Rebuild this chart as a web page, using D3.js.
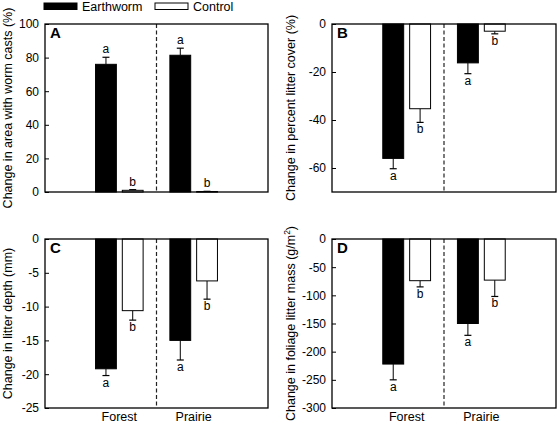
<!DOCTYPE html>
<html>
<head>
<meta charset="utf-8">
<script src="https://cdn.jsdelivr.net/npm/d3@7"></script>
<style>
  body { margin: 0; background: #fff; }
  svg { display: block; font-family: "Liberation Sans", Arial, sans-serif; }
</style>
</head>
<body>
<svg id="chart" width="558" height="427"></svg>
<script>
// ---- data ----
const groups = ["Forest", "Prairie"];
const series = ["Earthworm", "Control"];
// order: Forest-Earthworm, Forest-Control, Prairie-Earthworm, Prairie-Control
const castsMean = [76.0, 1.0, 81.4, 0.3];
const castsErr  = [4.2, 0.4, 4.2, 0.1];
const coverMean = [-56.0, -35.3, -16.2, -3.0];
const coverErr  = [4.3, 5.7, 4.5, 1.1];
const depthMean = [-19.2, -10.6, -15.0, -6.2];
const depthErr  = [1.0, 1.4, 2.9, 2.7];
const massMean  = [-222, -74, -150, -73];
const massErr   = [28, 11, 21, 29];
const letters   = ["a", "b", "a", "b"];
const castsTicks = [0, 20, 40, 60, 80, 100];
const coverTicks = [0, -20, -40, -60];
const depthTicks = [0, -5, -10, -15, -20, -25];
const massTicks  = [0, -50, -100, -150, -200, -250, -300];

const svg = d3.select("#chart");

// legend
const leg = svg.append("g");
series.forEach((s, i) => {
  const x0 = i === 0 ? 44 : 155;
  leg.append("rect").attr("x", x0).attr("y", 3).attr("width", 33).attr("height", 6.5)
    .attr("fill", i === 0 ? "#000" : "#fff").attr("stroke", "#000").attr("stroke-width", 1);
  leg.append("text").attr("x", x0 + 38).attr("y", 11).attr("font-size", 12.5).attr("fill", "#000").text(s);
});

function gi2pos(gi) { return gi + 1; }

function panel(cfg) {
  const { left, right, top, bottom, domain, ticks, mean, err, title, letter, titleX, showCats } = cfg;
  const g = svg.append("g");
  const x = d3.scaleLinear().domain([0, 3]).range([left, right]);
  const y = d3.scaleLinear().domain(domain).range([bottom, top]);
  const offset = [-0.18, 0.18];
  const bw = 0.28;

  // axis
  const ax = g.append("g").attr("transform", `translate(${left},0)`)
    .call(d3.axisLeft(y).tickValues(ticks).tickFormat(d => String(d))
      .tickSizeInner(-4).tickSizeOuter(0).tickPadding(6));
  ax.select(".domain").remove();
  ax.selectAll("text").attr("font-size", 12).attr("font-family", "Liberation Sans, Arial, sans-serif").attr("fill", "#000");
  ax.selectAll("line").attr("stroke", "#000");

  // dashed divider
  g.append("line").attr("x1", x(1.5)).attr("x2", x(1.5)).attr("y1", top).attr("y2", bottom)
    .attr("stroke", "#222").attr("stroke-width", 1.2).attr("stroke-dasharray", "4,2.5");

  const data = [];
  groups.forEach((gr, gi) => series.forEach((s, si) => {
    const k = gi * 2 + si;
    data.push({ gi, si, m: mean[k], e: err[k], l: letters[k] });
  }));

  data.forEach(d => {
    const pos = gi2pos(d.gi) + offset[d.si];
    const cx = x(pos);
    const x0 = x(pos - bw / 2);
    const x1 = x(pos + bw / 2);
    const y0 = y(0), y1 = y(d.m);
    const sign = d.m >= 0 ? 1 : -1;
    const cap = y(d.m + sign * d.e);
    g.append("line").attr("x1", cx).attr("x2", cx).attr("y1", y1).attr("y2", cap).attr("stroke", "#000").attr("stroke-width", 1);
    g.append("line").attr("x1", cx - 3.5).attr("x2", cx + 3.5).attr("y1", cap).attr("y2", cap).attr("stroke", "#000").attr("stroke-width", 1.2);
    g.append("rect").attr("x", x0).attr("width", x1 - x0)
      .attr("y", Math.min(y0, y1)).attr("height", Math.max(Math.abs(y1 - y0), 0.6))
      .attr("fill", d.si === 0 ? "#000" : "#fff").attr("stroke", "#000").attr("stroke-width", 1);
    g.append("text").attr("x", cx).attr("y", sign > 0 ? cap - 4 : cap + 11)
      .attr("text-anchor", "middle").attr("font-size", 12).attr("fill", "#000").text(d.l);
  });

  // frame
  g.append("rect").attr("x", left).attr("y", top).attr("width", right - left).attr("height", bottom - top)
    .attr("fill", "none").attr("stroke", "#000").attr("stroke-width", 1.3);

  // panel letter
  g.append("text").attr("x", left + 5).attr("y", top + 14).attr("font-size", 15)
    .attr("font-weight", "bold").attr("fill", "#000").text(letter);

  // y title
  const t = g.append("text").attr("transform", `translate(${titleX},${(top + bottom) / 2}) rotate(-90)`)
    .attr("text-anchor", "middle").attr("font-size", 12.5).attr("fill", "#000");
  title(t);

  if (showCats) {
    groups.forEach((gr, gi) => {
      g.append("text").attr("x", x(gi2pos(gi))).attr("y", bottom + 13).attr("text-anchor", "middle")
        .attr("font-size", 12.5).attr("fill", "#000").text(gr);
    });
  }
}

panel({ left: 45, right: 268, top: 24, bottom: 192, domain: [0, 100], ticks: castsTicks,
  mean: castsMean, err: castsErr, letter: "A", titleX: 12, showCats: false,
  title: t => t.text("Change in area with worm casts (%)") });
panel({ left: 332, right: 556, top: 24, bottom: 192, domain: [-70, 0], ticks: coverTicks,
  mean: coverMean, err: coverErr, letter: "B", titleX: 295, showCats: false,
  title: t => t.text("Change in percent litter cover (%)") });
panel({ left: 45, right: 268, top: 239, bottom: 408, domain: [-25, 0], ticks: depthTicks,
  mean: depthMean, err: depthErr, letter: "C", titleX: 12, showCats: true,
  title: t => t.text("Change in litter depth (mm)") });
panel({ left: 332, right: 556, top: 239, bottom: 408, domain: [-300, 0], ticks: massTicks,
  mean: massMean, err: massErr, letter: "D", titleX: 295, showCats: true,
  title: t => { t.append("tspan").text("Change in foliage litter mass (g/m");
                t.append("tspan").attr("dy", -5).attr("font-size", 8.5).text("2");
                t.append("tspan").attr("dy", 5).text(")"); } });
</script>
</body>
</html>
